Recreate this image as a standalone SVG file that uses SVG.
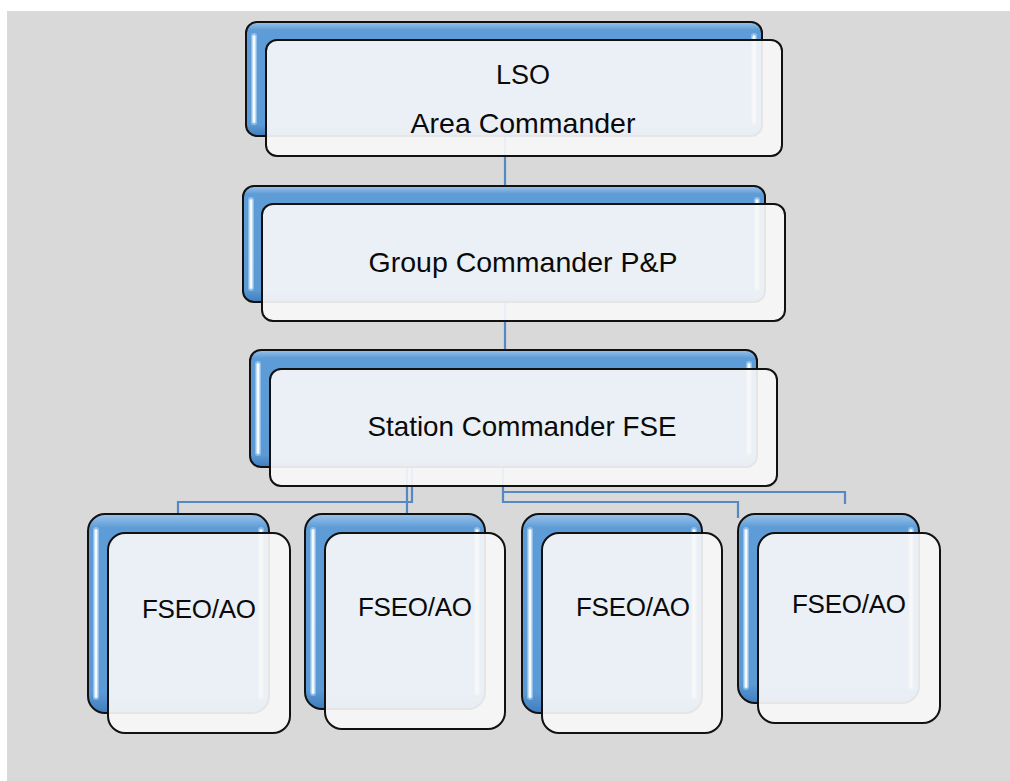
<svg xmlns="http://www.w3.org/2000/svg" width="1010" height="781" viewBox="0 0 1010 781">
<style>
.back{fill:url(#blueGrad);stroke:#111;stroke-width:2}
.front{fill:#f7f7f9;fill-opacity:0.92;stroke:#111;stroke-width:2}
.glow{fill:#b3d6f5;opacity:0.6}
.hl{fill:#f4faff}
.conn path{fill:none;stroke:#5589c4;stroke-width:2.2}
.lbl{font-family:"Liberation Sans",Arial,sans-serif;fill:#0a0a0a;text-anchor:middle}
</style>
<defs>
<linearGradient id="blueGrad" x1="0" y1="0" x2="0" y2="1">
<stop offset="0" stop-color="#9cc4ec"/>
<stop offset="0.07" stop-color="#5d9cd6"/>
<stop offset="0.9" stop-color="#5b9ad4"/>
<stop offset="1" stop-color="#3f7cbe"/>
</linearGradient>
</defs>
<rect width="1010" height="781" fill="#ffffff"/>
<rect x="7" y="11" width="1003" height="770" fill="#d9d9d9"/>

<g id="connectors" class="conn">
<path d="M505 136V186"/>
<path d="M505 302V350"/>
<path d="M407 467V513"/>
<path d="M412 467V502H178V513"/>
<path d="M503 467V502H738V518"/>
<path d="M503 492H845V504"/>
</g>

<g id="node-lso">
<rect class="back" x="246" y="22" width="516" height="114" rx="11"/>
<rect class="glow" x="251" y="33" width="6" height="92" rx="3"/>
<rect class="hl" x="252.5" y="35" width="3" height="88" rx="1.5"/>
<rect class="glow" x="751" y="33" width="6" height="92" rx="3"/>
<rect class="hl" x="752.5" y="35" width="3" height="88" rx="1.5"/>
<rect class="front" x="266" y="40" width="516" height="116" rx="11"/>
<text class="lbl" x="523" y="84" font-size="27">LSO</text>
<text class="lbl" x="523" y="133" font-size="28.5">Area Commander</text>
</g>

<g id="node-group">
<rect class="back" x="243" y="186" width="522" height="116" rx="11"/>
<rect class="glow" x="248" y="197" width="6" height="94" rx="3"/>
<rect class="hl" x="249.5" y="199" width="3" height="90" rx="1.5"/>
<rect class="glow" x="754" y="197" width="6" height="94" rx="3"/>
<rect class="hl" x="755.5" y="199" width="3" height="90" rx="1.5"/>
<rect class="front" x="262" y="204" width="523" height="117" rx="11"/>
<text class="lbl" x="523" y="272" font-size="28.5">Group Commander P&amp;P</text>
</g>

<g id="node-station">
<rect class="back" x="250" y="350" width="507" height="117" rx="11"/>
<rect class="glow" x="255" y="361" width="6" height="95" rx="3"/>
<rect class="hl" x="256.5" y="363" width="3" height="91" rx="1.5"/>
<rect class="glow" x="746" y="361" width="6" height="95" rx="3"/>
<rect class="hl" x="747.5" y="363" width="3" height="91" rx="1.5"/>
<rect class="front" x="270" y="369" width="507" height="117" rx="11"/>
<text class="lbl" x="522" y="436" font-size="27.8">Station Commander FSE</text>
</g>

<g id="node-fseo-1">
<rect class="back" x="88" y="514" width="181" height="199" rx="17"/>
<rect class="glow" x="93" y="527" width="6" height="173" rx="3"/>
<rect class="hl" x="94.5" y="529" width="3" height="169" rx="1.5"/>
<rect class="glow" x="258" y="527" width="6" height="173" rx="3"/>
<rect class="hl" x="259.5" y="529" width="3" height="169" rx="1.5"/>
<rect class="front" x="108" y="533" width="182" height="200" rx="17"/>
<text class="lbl" x="199" y="618" font-size="26" textLength="114">FSEO/AO</text>
</g>

<g id="node-fseo-2">
<rect class="back" x="305" y="514" width="180" height="195" rx="17"/>
<rect class="glow" x="310" y="527" width="6" height="169" rx="3"/>
<rect class="hl" x="311.5" y="529" width="3" height="165" rx="1.5"/>
<rect class="glow" x="474" y="527" width="6" height="169" rx="3"/>
<rect class="hl" x="475.5" y="529" width="3" height="165" rx="1.5"/>
<rect class="front" x="325" y="533" width="180" height="196" rx="17"/>
<text class="lbl" x="415" y="616" font-size="26" textLength="114">FSEO/AO</text>
</g>

<g id="node-fseo-3">
<rect class="back" x="522" y="514" width="180" height="199" rx="17"/>
<rect class="glow" x="527" y="527" width="6" height="173" rx="3"/>
<rect class="hl" x="528.5" y="529" width="3" height="169" rx="1.5"/>
<rect class="glow" x="691" y="527" width="6" height="173" rx="3"/>
<rect class="hl" x="692.5" y="529" width="3" height="169" rx="1.5"/>
<rect class="front" x="542" y="533" width="180" height="200" rx="17"/>
<text class="lbl" x="633" y="616" font-size="26" textLength="114">FSEO/AO</text>
</g>

<g id="node-fseo-4">
<rect class="back" x="738" y="514" width="181" height="189" rx="17"/>
<rect class="glow" x="743" y="527" width="6" height="163" rx="3"/>
<rect class="hl" x="744.5" y="529" width="3" height="159" rx="1.5"/>
<rect class="glow" x="908" y="527" width="6" height="163" rx="3"/>
<rect class="hl" x="909.5" y="529" width="3" height="159" rx="1.5"/>
<rect class="front" x="758" y="533" width="182" height="190" rx="17"/>
<text class="lbl" x="849" y="613" font-size="26" textLength="114">FSEO/AO</text>
</g>
</svg>
